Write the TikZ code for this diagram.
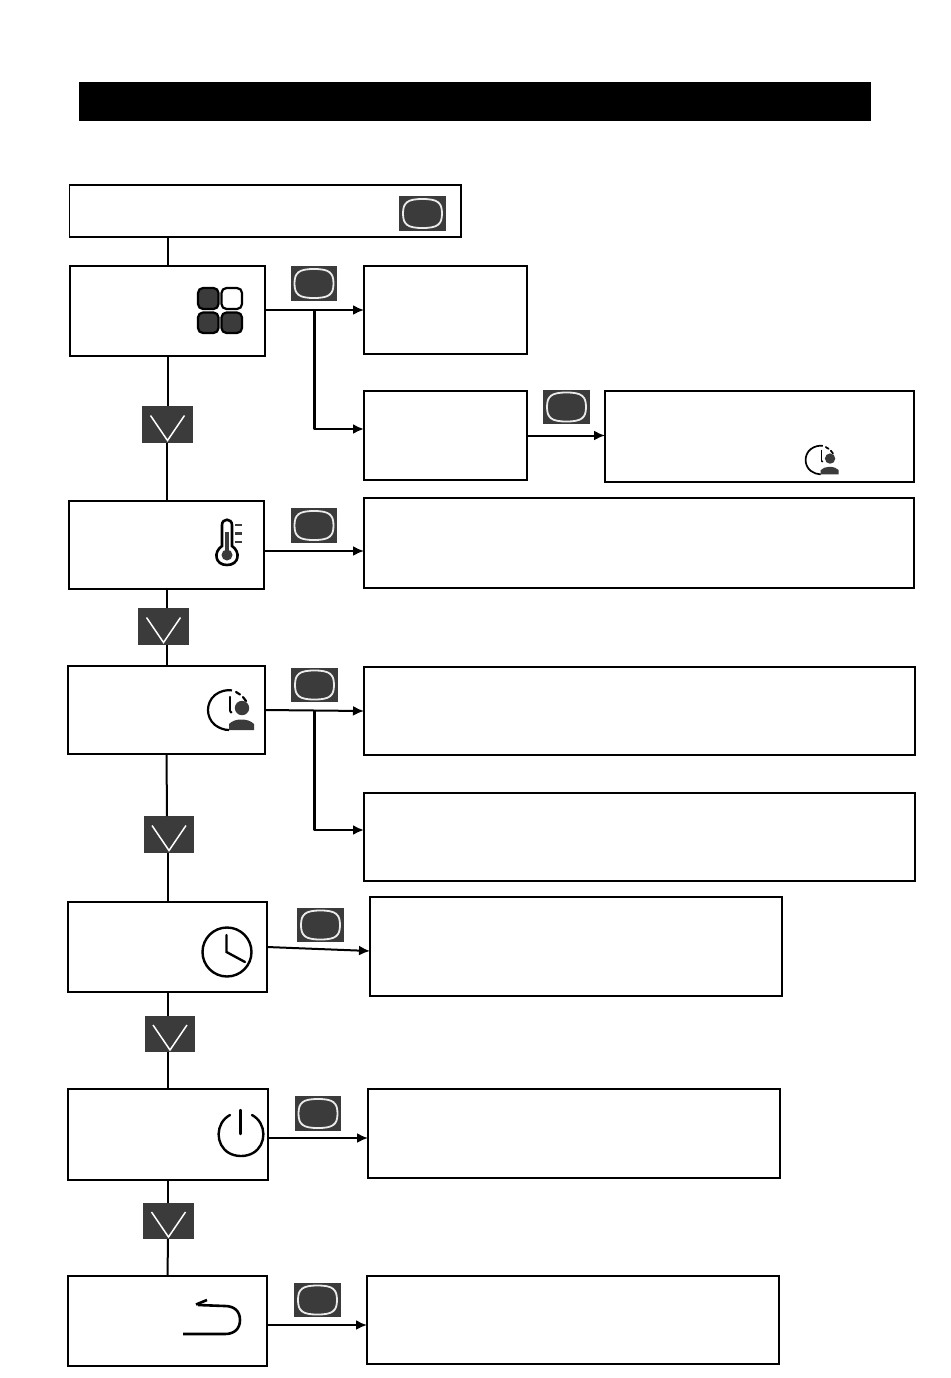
\documentclass[tikz,border=0pt]{standalone}
\usetikzlibrary{arrows.meta,calc}
\definecolor{btn}{HTML}{3B3B3B}
\tikzset{
  every node/.style={inner sep=0pt,outer sep=0pt},
  flowbox/.style={draw=black,fill=white,line width=1.5pt},
  btnbox/.style={fill=btn},
  link/.style={line width=2pt,draw=black},
  arr/.style={line width=2pt,draw=black,-{Latex[length=11pt,width=10pt]}},
  branch/.style={line width=2.4pt,draw=black,-{Latex[length=11pt,width=10pt]},line join=round},
  keyline/.style={line width=1.8pt,draw=white!92!black},
  vline/.style={line width=1.5pt,draw=white},
  iconline/.style={line width=2.4pt,draw=black,line cap=round},
}
% name, x1, y1, x2, y2
\newcommand{\rectnode}[6]{\node[#1,minimum width={(#5-#3)*1pt},minimum height={(#6-#4)*1pt}] (#2) at ({(#3+#5)/2},{(#4+#6)/2}) {};}
\newcommand{\flowrect}[5]{\rectnode{flowbox}{#1}{#2}{#3}{#4}{#5}}
\newcommand{\keybtn}[5]{\rectnode{btnbox}{#1}{#2}{#3}{#4}{#5}
  \draw[keyline,shift={(#1.center)}] (-19.5,0) .. controls (-19.5,-11) and (-15,-14.5) .. (0,-14.5) .. controls (15,-14.5) and (19.5,-11) .. (19.5,0) .. controls (19.5,11) and (15,14.5) .. (0,14.5) .. controls (-15,14.5) and (-19.5,11) .. (-19.5,0) -- cycle;}
\newcommand{\downbtn}[5]{\rectnode{btnbox}{#1}{#2}{#3}{#4}{#5}
  \draw[vline,shift={(#1.center)}] (-17,-9) -- (0,16) -- (17,-9);}
\newcommand{\userclock}[4]{% x, y, scale, line width
  \begin{scope}[shift={(#1,#2)},scale=#3]
    \draw[line width=#4,draw=black] (4,-19.6) .. controls (-1,-20.6) and (-8,-19) .. (-13,-15) .. controls (-18,-11) and (-20,-5) .. (-20,0) .. controls (-20,5) and (-18,11) .. (-13,15) .. controls (-9,18) and (-4,20) .. (1,20);
    \draw[line width=#4,draw=black,line cap=round] (8,-18) -- (12,-15.5) (15,-13) -- (18,-9);
    \draw[line width=#4,draw=black,line cap=round] (2,-13) -- (2,1);
    \fill[black] (3,2) circle[radius=1.5];
    \fill[btn] (14,-2) circle[radius=7.2];
    \fill[btn] (1,20) -- (1,14) .. controls (4,11) and (8,9.5) .. (13,9.5) .. controls (19,9.5) and (23,11) .. (26,14) -- (26,20) -- cycle;
  \end{scope}}
\begin{document}
\begin{tikzpicture}[x=1pt,y=-1pt]
\useasboundingbox (0,0) rectangle (950,1378);
\fill[white] (0,0) rectangle (950,1378);
\rectnode{fill=black}{title}{79}{82}{871}{121}
% boxes
\flowrect{top}{69.5}{185}{461}{237}
\flowrect{bA}{70}{266}{265}{356}
\flowrect{cA}{364}{266}{527}{354}
\flowrect{cB}{364}{391}{527}{480}
\flowrect{cC}{605}{391}{914}{482}
\flowrect{bB}{69}{501}{264}{589}
\flowrect{cD}{364}{498}{914}{588}
\flowrect{bC}{68}{666}{265}{754}
\flowrect{cE}{364}{667}{915}{755}
\flowrect{cF}{364}{793}{915}{881}
\flowrect{bD}{68}{902}{267}{992}
\flowrect{cG}{370}{897}{782}{996}
\flowrect{bE}{68}{1089}{268}{1180}
\flowrect{cH}{368}{1089}{780}{1178}
\flowrect{bF}{68}{1276}{267}{1366}
\flowrect{cI}{367}{1276}{779}{1364}
% buttons
\keybtn{kT}{399}{196}{446}{231}
\keybtn{kA}{291}{266}{337}{301}
\keybtn{kB}{543}{390}{590}{424}
\keybtn{kC}{291}{508}{337}{543}
\keybtn{kD}{291}{668}{338}{702}
\keybtn{kE}{297}{908}{344}{942}
\keybtn{kF}{295}{1096}{341}{1131}
\keybtn{kG}{294}{1283}{341}{1317}
\downbtn{dA}{142}{406}{193}{443}
\downbtn{dB}{138}{608}{189}{645}
\downbtn{dC}{144}{816}{194}{853}
\downbtn{dD}{145}{1016}{195}{1052}
\downbtn{dE}{143}{1203}{194}{1239}
% vertical links
\draw[link] (bA.north |- top.south) -- (bA.north);
\draw[link] (bA.south) -- (bA.south |- dA.north);
\draw[link] (dA.south -| bB.north) -- (bB.north);
\draw[link] (bB.south) -- (bB.south |- dB.north);
\draw[link] (bB.south |- dB.south) -- (bC.north);
\draw[link] (bC.south) -- ([xshift=-2pt]dC.north);
\draw[link] ([xshift=-1pt]dC.south) -- ([xshift=.5pt]bD.north);
\draw[link] (bD.south) -- (bD.south |- dD.north);
\draw[link] (bE.north |- dD.south) -- (bE.north);
\draw[link] (bE.south) -- (bE.south |- dE.north);
\draw[link] (bE.south |- dE.south) -- (bF.north);
% horizontal arrows
\draw[arr] (bA.east |- cA.west) -- (cA.west);
\coordinate (jA) at ($(bA.east |- cA.west)!.5!(cA.west)$);
\draw[branch] (jA) |- ([yshift=6.5pt]cB.west);
\draw[arr] (cB.east) -- (cB.east -| cC.west);
\draw[arr] ([yshift=-6pt]bB.east) -- ([yshift=-8pt]cD.west);
\draw[arr] (bC.east) -- (cE.west);
\coordinate (jB) at ($(bC.east)!.5!(cE.west)$);
\draw[branch] (jB) |- ([yshift=7pt]cF.west);
\draw[arr] (bD.east) -- ([yshift=-4.5pt]cG.west);
\draw[arr] ([yshift=-3.5pt]bE.east) -- ([yshift=-4.5pt]cH.west);
\draw[arr] ([yshift=-4pt]bF.east) -- ([yshift=-5pt]cI.west);
% four squares icon
\begin{scope}[line width=2.2pt,rounded corners=5pt]
\filldraw[draw=black,fill=btn] (198,288) rectangle (218.5,309);
\filldraw[draw=black,fill=white] (221.5,288) rectangle (242,309);
\filldraw[draw=black,fill=btn] (198,312.5) rectangle (218.5,333);
\filldraw[draw=black,fill=btn] (221.5,312.5) rectangle (242,333);
\end{scope}
% thermometer
\draw[line width=2.6pt,draw=black] (222,546) -- (222,525) .. controls (222,518) and (232,518) .. (232,525) -- (232,546) .. controls (241,552) and (239,565) .. (227,565) .. controls (215,565) and (213,552) .. (222,546) -- cycle;
\fill[btn] (227,555) circle[radius=5.5];
\fill[btn] (225,532) rectangle (229,553);
\draw[line width=2.3pt,draw=btn] (235,525) -- (242,525) (235,533.5) -- (242,533.5) (235,542) -- (242,542);
% user clock icons
\userclock{228}{710}{1}{2.2pt}
\userclock{820}{460}{0.72}{1.7pt}
% clock
\draw[line width=2.4pt,draw=black] (227,952) circle[radius=24.5];
\draw[iconline] (226.5,935) -- (226.5,952) -- (245,962);
% power
\draw[iconline] (230,1115) .. controls (215,1123) and (215,1145) .. (229,1153) .. controls (236,1157) and (246,1157) .. (253,1153) .. controls (267,1145) and (267,1123) .. (252,1115);
\draw[iconline] (240.5,1110) -- (240.5,1134);
% back
\draw[line width=2.6pt,draw=black,line join=round] (183,1334) -- (225,1334) .. controls (234,1334) and (240,1329) .. (240,1320) .. controls (240,1311) and (234,1306) .. (225,1306) -- (198,1305);
\draw[line width=2.6pt,draw=black] (196,1304.5) -- (207,1300);
\end{tikzpicture}
\end{document}
